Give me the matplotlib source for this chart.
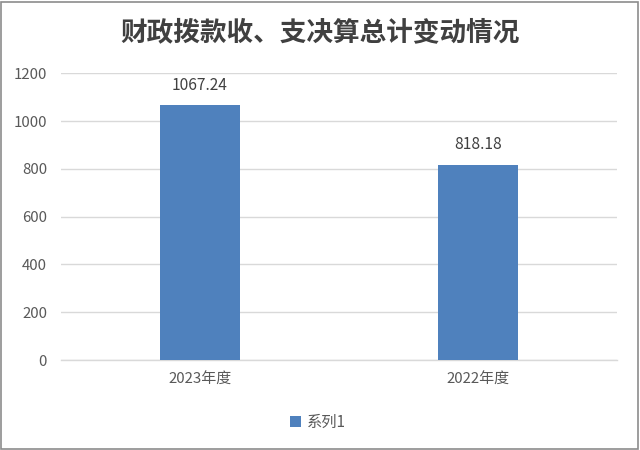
import matplotlib
matplotlib.use("Agg")
import matplotlib.pyplot as plt
from matplotlib.patches import Rectangle

plt.rcParams['font.family'] = ['Noto Sans CJK SC', 'DejaVu Sans']

title = "财政拨款收、支决算总计变动情况"
categories = ["2023年度", "2022年度"]
values = [1067.24, 818.18]
series_name = "系列1"
yticks = [0, 200, 400, 600, 800, 1000, 1200]

bar_color = "#4F81BD"
text_color = "#595959"

fig = plt.figure(figsize=(6.4, 4.5), dpi=100)
ax = fig.add_axes([61/640, 1-360/450, (617-61)/640, (360-73.3)/450])

x = list(range(len(categories)))
bars = ax.bar(x, values, width=0.29, color=bar_color, label=series_name, zorder=3)
ax.set_xlim(-0.5, len(categories) - 0.5)
ax.set_ylim(0, 1200)
ax.set_yticks(yticks)
ax.set_yticklabels([str(t) for t in yticks])
ax.set_xticks(x)
ax.set_xticklabels(categories)

ax.grid(axis='y', color='#D9D9D9', linewidth=1, zorder=0)
for s in ['top', 'right', 'left']:
    ax.spines[s].set_visible(False)
ax.spines['bottom'].set_color('#D9D9D9')
ax.spines['bottom'].set_linewidth(1)
ax.tick_params(axis='both', length=0, labelsize=10.8, colors=text_color)
ax.tick_params(axis='y', pad=10)
ax.tick_params(axis='x', pad=9)

for xi, v in zip(x, values):
    ax.annotate(f"{v:.2f}", (xi, v), xytext=(0, 8), textcoords='offset points',
                ha='center', va='bottom', fontsize=11.2, color='#404040')

fig.text(0.5, 1 - 33/450, title, ha='center', va='center', fontsize=19.2,
         fontweight='bold', color='#404040')

leg = fig.legend(handles=[bars], labels=[series_name], loc='center',
                 bbox_to_anchor=(318/640, 1 - 422/450), frameon=False,
                 fontsize=11, handlelength=0.7, handleheight=0.7,
                 handletextpad=0.4, labelcolor=text_color)

fig.patches.append(Rectangle((1/640, 1/450), 637/640, 447/450, transform=fig.transFigure,
                             fill=False, edgecolor='#8C8C8C', linewidth=1.2))

fig.savefig("out.png", dpi=100)
